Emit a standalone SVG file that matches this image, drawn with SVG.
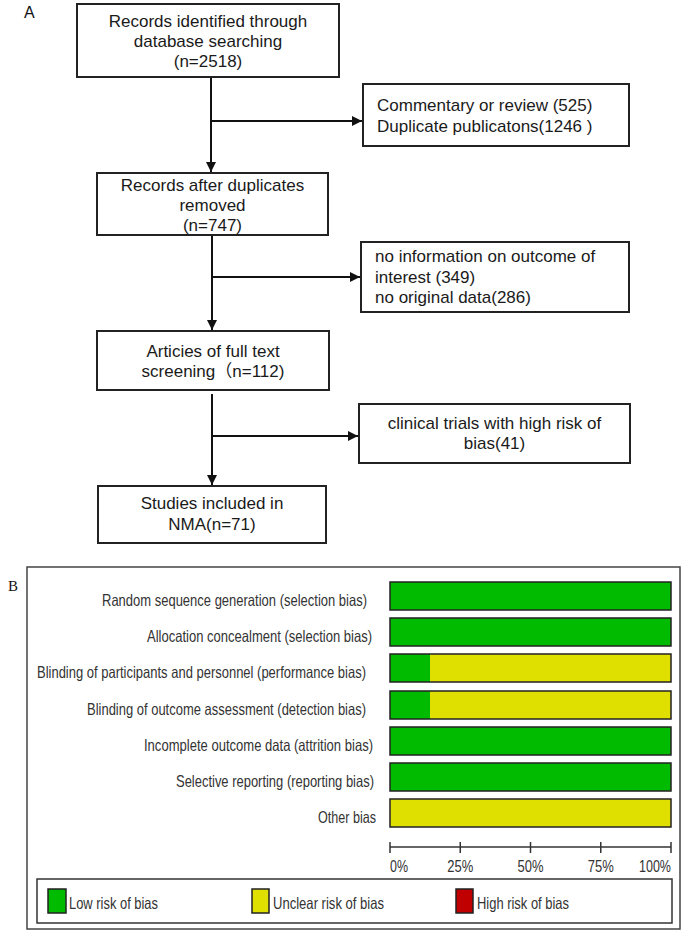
<svg xmlns="http://www.w3.org/2000/svg" width="684" height="940" viewBox="0 0 684 940">
<defs>
<marker id="arr" viewBox="0 0 10 10" refX="10" refY="5" markerWidth="10" markerHeight="10" markerUnits="userSpaceOnUse" orient="auto">
<path d="M0,0 L10,5 L0,10 Z" fill="#111"/>
</marker>
<style>
.box{fill:#fff;stroke:#222;stroke-width:2}
.t{font-family:"Liberation Sans",Arial,"Noto Sans CJK SC",sans-serif;font-size:17px;fill:#1a1a1a}
.c{text-anchor:middle}
.conn{stroke:#111;stroke-width:2;fill:none}
.lbl{font-family:"Liberation Sans",Arial,sans-serif;font-size:16.5px;fill:#333;text-anchor:end}
.tk{font-family:"Liberation Sans",Arial,sans-serif;font-size:16.5px;fill:#333}
.bar{stroke:#222;stroke-width:1.5}
.g{fill:#00bb00}
.y{fill:#e0e000}
.r{fill:#c00000}
</style>
</defs>
<rect width="684" height="940" fill="#fff"/>

<text x="24" y="18" font-family="Liberation Sans,Arial,sans-serif" font-size="16" fill="#111">A</text>

<g id="connectors">
<line class="conn" x1="211" y1="78" x2="211" y2="172" marker-end="url(#arr)"/>
<line class="conn" x1="211" y1="121" x2="362" y2="121" marker-end="url(#arr)"/>
<line class="conn" x1="212" y1="236" x2="212" y2="330" marker-end="url(#arr)"/>
<line class="conn" x1="212" y1="277" x2="360" y2="277" marker-end="url(#arr)"/>
<line class="conn" x1="212" y1="394" x2="212" y2="485" marker-end="url(#arr)"/>
<line class="conn" x1="212" y1="436" x2="358" y2="436" marker-end="url(#arr)"/>
</g>

<g id="n1">
<rect class="box" x="77" y="4" width="262" height="73"/>
<text class="t c" x="208" y="27">Records identified through</text>
<text class="t c" x="208" y="47">database searching</text>
<text class="t c" x="208" y="67">(n=2518)</text>
</g>

<g id="n2">
<rect class="box" x="363" y="84" width="266" height="62"/>
<text class="t" x="377" y="111">Commentary or review (525)</text>
<text class="t" x="377" y="132">Duplicate publicatons(1246 )</text>
</g>

<g id="n3">
<rect class="box" x="97" y="173" width="231" height="62"/>
<text class="t c" x="212.5" y="191">Records after duplicates</text>
<text class="t c" x="212.5" y="211">removed</text>
<text class="t c" x="212.5" y="231">(n=747)</text>
</g>

<g id="n4">
<rect class="box" x="361" y="242" width="268" height="70"/>
<text class="t" x="375" y="262">no information on outcome of</text>
<text class="t" x="375" y="283">interest (349)</text>
<text class="t" x="375" y="303">no original data(286)</text>
</g>

<g id="n5">
<rect class="box" x="97" y="331" width="232" height="59"/>
<text class="t c" x="213" y="357">Articies of full text</text>
<text class="t c" x="213" y="377">screening（n=112)</text>
</g>

<g id="n6">
<rect class="box" x="359" y="404" width="271" height="59"/>
<text class="t c" x="494.5" y="429">clinical trials with high risk of</text>
<text class="t c" x="494.5" y="449">bias(41)</text>
</g>

<g id="n7">
<rect class="box" x="98" y="486" width="228" height="57"/>
<text class="t c" x="212" y="509">Studies included in</text>
<text class="t c" x="212" y="530">NMA(n=71)</text>
</g>

<text x="8" y="591" font-family="Liberation Serif,Times New Roman,serif" font-size="15" fill="#111">B</text>

<g id="chart">
<rect x="27" y="567" width="653" height="362" fill="none" stroke="#444" stroke-width="1.5"/>

<g id="labels">
<text class="lbl" x="367" y="606" textLength="265" lengthAdjust="spacingAndGlyphs">Random sequence generation (selection bias)</text>
<text class="lbl" x="372" y="642" textLength="225" lengthAdjust="spacingAndGlyphs">Allocation concealment (selection bias)</text>
<text class="lbl" x="366" y="678" textLength="329" lengthAdjust="spacingAndGlyphs">Blinding of participants and personnel (performance bias)</text>
<text class="lbl" x="366" y="715" textLength="279" lengthAdjust="spacingAndGlyphs">Blinding of outcome assessment (detection bias)</text>
<text class="lbl" x="373" y="751" textLength="229" lengthAdjust="spacingAndGlyphs">Incomplete outcome data (attrition bias)</text>
<text class="lbl" x="374" y="787" textLength="198" lengthAdjust="spacingAndGlyphs">Selective reporting (reporting bias)</text>
<text class="lbl" x="376" y="823" textLength="58" lengthAdjust="spacingAndGlyphs">Other bias</text>
</g>

<g id="bars">
<rect class="g" x="390" y="582" width="281" height="28"/>
<rect class="bar" x="390" y="582" width="281" height="28" fill="none"/>
<rect class="g" x="390" y="618" width="281" height="28"/>
<rect class="bar" x="390" y="618" width="281" height="28" fill="none"/>
<rect class="g" x="390" y="654" width="40" height="28"/>
<rect class="y" x="430" y="654" width="241" height="28"/>
<rect class="bar" x="390" y="654" width="281" height="28" fill="none"/>
<rect class="g" x="390" y="691" width="40" height="28"/>
<rect class="y" x="430" y="691" width="241" height="28"/>
<rect class="bar" x="390" y="691" width="281" height="28" fill="none"/>
<rect class="g" x="390" y="727" width="281" height="28"/>
<rect class="bar" x="390" y="727" width="281" height="28" fill="none"/>
<rect class="g" x="390" y="763" width="281" height="28"/>
<rect class="bar" x="390" y="763" width="281" height="28" fill="none"/>
<rect class="y" x="390" y="799" width="281" height="28"/>
<rect class="bar" x="390" y="799" width="281" height="28" fill="none"/>
</g>

<g id="axis" stroke="#333" stroke-width="1.5">
<line x1="390" y1="847" x2="671" y2="847"/>
<line x1="390" y1="842" x2="390" y2="853"/>
<line x1="460.25" y1="842" x2="460.25" y2="853"/>
<line x1="530.5" y1="842" x2="530.5" y2="853"/>
<line x1="600.75" y1="842" x2="600.75" y2="853"/>
<line x1="671" y1="842" x2="671" y2="853"/>
</g>
<text class="tk" x="390" y="872" textLength="18" lengthAdjust="spacingAndGlyphs">0%</text>
<text class="tk" x="460.25" y="872" text-anchor="middle" textLength="26" lengthAdjust="spacingAndGlyphs">25%</text>
<text class="tk" x="530.5" y="872" text-anchor="middle" textLength="26" lengthAdjust="spacingAndGlyphs">50%</text>
<text class="tk" x="600.75" y="872" text-anchor="middle" textLength="26" lengthAdjust="spacingAndGlyphs">75%</text>
<text class="tk" x="671" y="872" text-anchor="end" textLength="32" lengthAdjust="spacingAndGlyphs">100%</text>

<g id="legend">
<rect x="37" y="879" width="635" height="44" fill="#fff" stroke="#333" stroke-width="1.5"/>
<rect class="g bar" x="48" y="889" width="18" height="24"/>
<text class="tk" x="69" y="909" textLength="89" lengthAdjust="spacingAndGlyphs">Low risk of bias</text>
<rect class="y bar" x="252" y="889" width="17" height="24"/>
<text class="tk" x="273" y="909" textLength="111" lengthAdjust="spacingAndGlyphs">Unclear risk of bias</text>
<rect class="r bar" x="456" y="889" width="17" height="24"/>
<text class="tk" x="477" y="909" textLength="92" lengthAdjust="spacingAndGlyphs">High risk of bias</text>
</g>
</g>
</svg>
